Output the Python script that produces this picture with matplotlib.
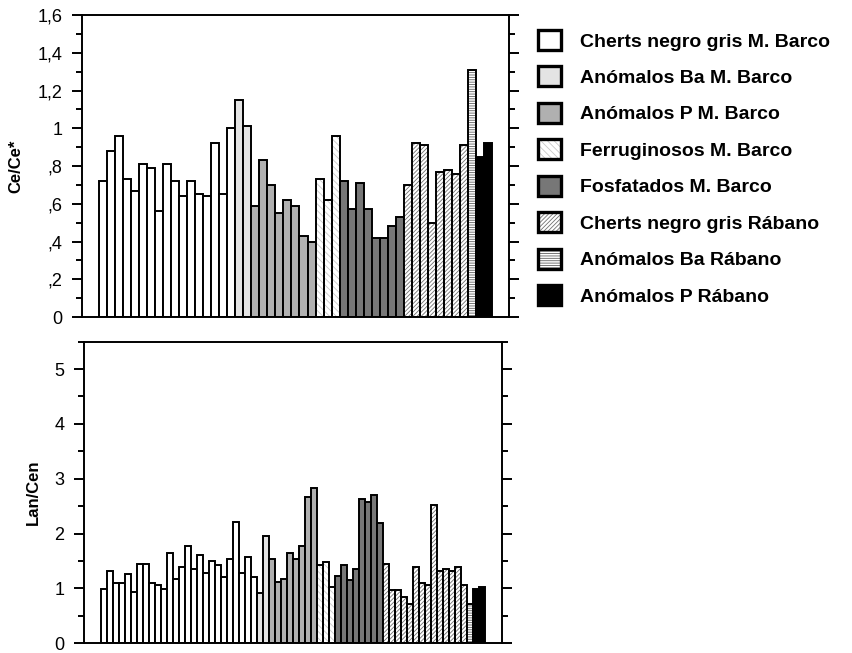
import numpy as np
import matplotlib
matplotlib.use('Agg')
import matplotlib.pyplot as plt
from matplotlib.patches import Patch
from matplotlib.ticker import MultipleLocator, FixedLocator

plt.rcParams['font.family'] = ['Liberation Sans', 'DejaVu Sans']
plt.rcParams['hatch.linewidth'] = 0.6

groups = ['Cherts negro gris M. Barco', 'Anómalos Ba M. Barco', 'Anómalos P M. Barco',
          'Ferruginosos M. Barco', 'Fosfatados M. Barco', 'Cherts negro gris Rábano',
          'Anómalos Ba Rábano', 'Anómalos P Rábano']

# Ce/Ce* (upper panel)
ce_cherts_mb = [0.72, 0.88, 0.96, 0.73, 0.67, 0.81, 0.79, 0.56, 0.81, 0.72, 0.64, 0.72,
                0.65, 0.64, 0.92, 0.65, 1.00]
ce_ba_mb = [1.15, 1.01]
ce_p_mb = [0.59, 0.83, 0.70, 0.55, 0.62, 0.59, 0.43, 0.40]
ce_ferr_mb = [0.73, 0.62, 0.96]
ce_fosf_mb = [0.72, 0.57, 0.71, 0.57, 0.42, 0.42, 0.48, 0.53]
ce_cherts_rab = [0.70, 0.92, 0.91, 0.50, 0.77, 0.78, 0.76, 0.91]
ce_ba_rab = [1.31]
ce_p_rab = [0.85, 0.92]

# Lan/Cen (lower panel)
la_cherts_mb = [0.99, 1.32, 1.09, 1.09, 1.27, 0.94, 1.45, 1.45, 1.09, 1.06, 0.99, 1.64, 1.17,
                1.39, 1.78, 1.36, 1.61, 1.28, 1.50, 1.42, 1.20, 1.53, 2.22, 1.28, 1.57, 1.20]
la_ba_mb = [0.91, 1.96]
la_p_mb = [1.53, 1.12, 1.17, 1.64, 1.53, 1.78, 2.66, 2.84]
la_ferr_mb = [1.42, 1.49, 1.02]
la_fosf_mb = [1.23, 1.42, 1.16, 1.35, 2.63, 2.58, 2.70, 2.19]
la_cherts_rab = [1.45, 0.97, 0.97, 0.84, 0.72, 1.39, 1.09, 1.06, 2.52, 1.31, 1.36, 1.31,
                 1.39, 1.06]
la_ba_rab = [0.72]
la_p_rab = [0.99, 1.02]

ce_ticks = [0, 0.2, 0.4, 0.6, 0.8, 1.0, 1.2, 1.4, 1.6]
ce_ticklabels = ['0', ',2', ',4', ',6', ',8', '1', '1,2', '1,4', '1,6']
la_ticks = [0, 1, 2, 3, 4, 5]
la_ticklabels = ['0', '1', '2', '3', '4', '5']

# fill colour, hatch, hatch colour for each group
styles = [('white', '', None),
          ('#e4e4e4', '', None),
          ('#b0b0b0', '', None),
          ('white', '\\\\\\\\\\', '#c8c8c8'),
          ('#777777', '', None),
          ('white', '////////', '#707070'),
          ('white', '-------', '#606060'),
          ('black', '', None)]


def draw_panel(ax, series, pad):
    n = sum(len(s) for s in series)
    start = 0
    for vals, (fc, hatch, hc) in zip(series, styles):
        x = np.arange(start, start + len(vals))
        if hatch:
            ax.bar(x, vals, width=1, align='edge', color=fc, hatch=hatch,
                   edgecolor=hc, linewidth=0)
            ax.bar(x, vals, width=1, align='edge', fill=False,
                   edgecolor='black', linewidth=1.4)
        else:
            ax.bar(x, vals, width=1, align='edge', color=fc,
                   edgecolor='black', linewidth=1.4)
        start += len(vals)
    ax.set_xlim(-pad, n + pad)
    ax.set_xticks([])
    for sp in ax.spines.values():
        sp.set_linewidth(1.4)
    ax.tick_params(axis='y', which='both', direction='out', left=True, right=True,
                   labelsize=13, width=1.4, pad=7)
    ax.tick_params(axis='y', which='major', length=7)
    ax.tick_params(axis='y', which='minor', length=4.5)


fig = plt.figure(figsize=(8.52, 6.53), dpi=100)
ax1 = fig.add_axes([0.0962, 0.5145, 0.5012, 0.4625])
ax2 = fig.add_axes([0.0986, 0.0149, 0.4903, 0.4619])

draw_panel(ax1, [ce_cherts_mb, ce_ba_mb, ce_p_mb, ce_ferr_mb, ce_fosf_mb,
                 ce_cherts_rab, ce_ba_rab, ce_p_rab], 2.1)
ax1.set_ylim(0, 1.6)
ax1.yaxis.set_major_locator(FixedLocator(ce_ticks))
ax1.set_yticklabels(ce_ticklabels)
ax1.yaxis.set_minor_locator(MultipleLocator(0.1))
ax1.set_ylabel('Ce/Ce*', fontsize=12, fontweight='bold', labelpad=10)

draw_panel(ax2, [la_cherts_mb, la_ba_mb, la_p_mb, la_ferr_mb, la_fosf_mb,
                 la_cherts_rab, la_ba_rab, la_p_rab], 2.75)
ax2.set_ylim(0, 5.5)
ax2.yaxis.set_major_locator(FixedLocator(la_ticks))
ax2.set_yticklabels(la_ticklabels)
ax2.yaxis.set_minor_locator(MultipleLocator(0.5))
ax2.set_ylabel('Lan/Cen', fontsize=12, fontweight='bold', labelpad=10)

handles = []
for fc, hatch, hc in styles:
    if hatch:
        handles.append((Patch(facecolor=fc, hatch=hatch, edgecolor=hc, linewidth=0),
                        Patch(fill=False, edgecolor='black', linewidth=2.4)))
    else:
        handles.append(Patch(facecolor=fc, edgecolor='black', linewidth=2.4))

fig.legend(handles, groups, loc='upper left', bbox_to_anchor=(538 / 852, 1 - 30 / 653),
           frameon=False, prop={'weight': 'bold', 'size': 14},
           handlelength=1.2, handleheight=1.2, handletextpad=0.95,
           labelspacing=0.82, borderpad=0, borderaxespad=0)

fig.savefig('out.png', dpi=100)
